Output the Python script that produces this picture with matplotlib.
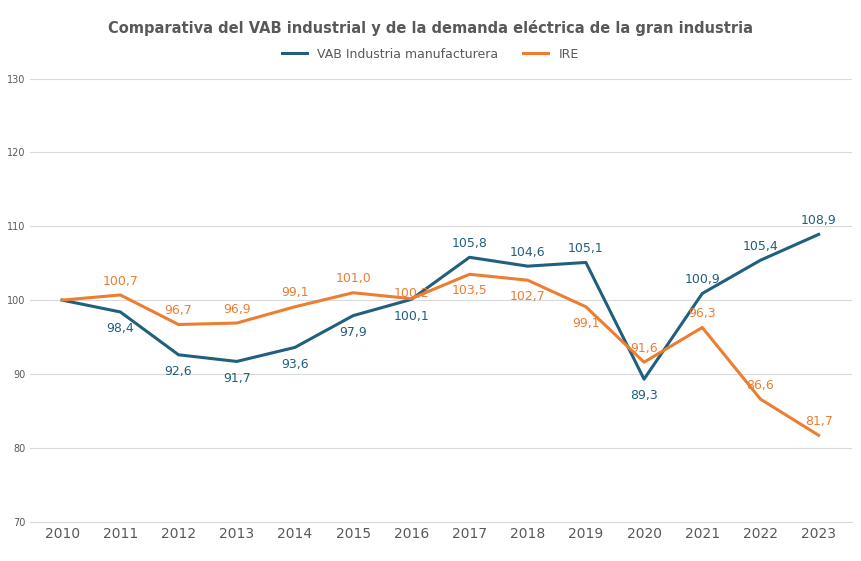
import matplotlib.pyplot as plt

years = list(range(2010, 2024))
vab = [100.0, 98.4, 92.6, 91.7, 93.6, 97.9, 100.1, 105.8, 104.6, 105.1, 89.3, 100.9, 105.4, 108.9]
ire = [100.0, 100.7, 96.7, 96.9, 99.1, 101.0, 100.2, 103.5, 102.7, 99.1, 91.6, 96.3, 86.6, 81.7]
# label offsets in points (None = no label)
vab_off = [None, -12, -12, -12, -12, -12, -12, 10, 10, 10, -12, 10, 10, 10]
ire_off = [None, 10, 10, 10, 10, 10, 4, -12, -12, -12, 10, 10, 10, 10]

c_vab = '#215F7F'
c_ire = '#ED7D31'

fig = plt.figure(figsize=(8.61, 5.61), dpi=100)
ax = fig.add_axes([0.035, 0.07, 0.955, 0.79])
ax.plot(years, vab, color=c_vab, lw=2.2, label='VAB Industria manufacturera')
ax.plot(years, ire, color=c_ire, lw=2.2, label='IRE')

for x, v, o in zip(years, vab, vab_off):
    if o is not None:
        ax.annotate(f'{v:.1f}'.replace('.', ','), (x, v), xytext=(0, o), textcoords='offset points',
                    ha='center', va='center', fontsize=9, color=c_vab)
for x, v, o in zip(years, ire, ire_off):
    if o is not None:
        ax.annotate(f'{v:.1f}'.replace('.', ','), (x, v), xytext=(0, o), textcoords='offset points',
                    ha='center', va='center', fontsize=9, color=c_ire)

ax.set_ylim(70, 130)
ax.set_yticks(range(70, 131, 10))
ax.set_xlim(2009.45, 2023.58)
ax.set_xticks(years)
ax.tick_params(axis='y', labelsize=7, colors='#595959', length=0)
ax.tick_params(axis='x', labelsize=10, colors='#595959', length=0)
ax.grid(axis='y', color='#D9D9D9', lw=0.8)
ax.set_axisbelow(True)
for s in ['top', 'right', 'left']:
    ax.spines[s].set_visible(False)
ax.spines['bottom'].set_color('#D9D9D9')

fig.suptitle('Comparativa del VAB industrial y de la demanda eléctrica de la gran industria',
             y=0.965, fontsize=10.5, fontweight='bold', color='#595959')
fig.legend(loc='upper center', bbox_to_anchor=(0.5, 0.935), ncol=2, frameon=False,
           fontsize=9, labelcolor='#595959', handlelength=2)
fig.savefig('out.png')
